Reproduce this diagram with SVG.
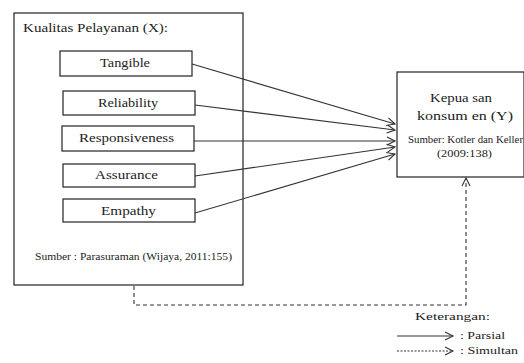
<svg xmlns="http://www.w3.org/2000/svg" width="524" height="363" viewBox="0 0 524 363">
<style>
.box{fill:#fff;stroke:#222;stroke-width:1.2}
text{font-family:'Liberation Serif','DejaVu Serif',serif;fill:#222}
.ln{fill:none;stroke:#333;stroke-width:1.1}
.ds{fill:none;stroke:#333;stroke-width:1.1;stroke-dasharray:4,3}
</style>
<defs>
<marker id="ar" markerUnits="userSpaceOnUse" markerWidth="12" markerHeight="10" refX="9" refY="5" orient="auto">
<path d="M1,1 L9,5 L1,9" fill="none" stroke="#333" stroke-width="1.1"/>
</marker>
</defs>
<rect width="524" height="363" fill="#fff"/>
<g id="kualitas">
<rect class="box" x="14" y="13" width="229" height="272"/>
<text x="23" y="32" font-size="12" textLength="145" lengthAdjust="spacingAndGlyphs">Kualitas Pelayanan (X):</text>
<text x="35" y="260" font-size="9.5" textLength="197" lengthAdjust="spacingAndGlyphs">Sumber : Parasuraman (Wijaya, 2011:155)</text>
</g>
<g id="tangible">
<rect class="box" x="60" y="51" width="132" height="25"/>
<text x="100" y="67" font-size="13.5" textLength="50" lengthAdjust="spacingAndGlyphs">Tangible</text>
</g>
<g id="reliability">
<rect class="box" x="63" y="91" width="132" height="24"/>
<text x="98" y="107" font-size="13.5" textLength="60" lengthAdjust="spacingAndGlyphs">Reliability</text>
</g>
<g id="responsiveness">
<rect class="box" x="62" y="126" width="132" height="25"/>
<text x="79" y="142" font-size="13.5" textLength="95" lengthAdjust="spacingAndGlyphs">Responsiveness</text>
</g>
<g id="assurance">
<rect class="box" x="63" y="164" width="132" height="23"/>
<text x="95" y="179" font-size="13.5" textLength="63" lengthAdjust="spacingAndGlyphs">Assurance</text>
</g>
<g id="empathy">
<rect class="box" x="63" y="199" width="132" height="23"/>
<text x="101" y="215" font-size="13.5" textLength="55" lengthAdjust="spacingAndGlyphs">Empathy</text>
</g>
<g id="kepuasan">
<rect class="box" x="397" y="72" width="127" height="105"/>
<text x="430" y="102" font-size="13.5" textLength="62" lengthAdjust="spacingAndGlyphs">Kepua san</text>
<text x="417" y="120" font-size="13.5" textLength="96" lengthAdjust="spacingAndGlyphs">konsum en (Y)</text>
<text x="408" y="143" font-size="9.5" textLength="115" lengthAdjust="spacingAndGlyphs">Sumber: Kotler dan Keller</text>
<text x="437" y="157" font-size="10" textLength="55" lengthAdjust="spacingAndGlyphs">(2009:138)</text>
</g>
<g id="connectors">
<line class="ln" x1="192" y1="64" x2="395" y2="124" marker-end="url(#ar)"/>
<line class="ln" x1="195" y1="105" x2="395" y2="130" marker-end="url(#ar)"/>
<line class="ln" x1="194" y1="141" x2="395" y2="141" marker-end="url(#ar)"/>
<line class="ln" x1="195" y1="176" x2="395" y2="147" marker-end="url(#ar)"/>
<line class="ln" x1="195" y1="213" x2="395" y2="154" marker-end="url(#ar)"/>
<polyline class="ds" points="134,286 134,305 466,305 466,178" marker-end="url(#ar)"/>
</g>
<g id="legend">
<text x="415" y="320" font-size="11" textLength="75" lengthAdjust="spacingAndGlyphs">Keterangan:</text>
<line class="ln" x1="397" y1="336" x2="453" y2="336" marker-end="url(#ar)"/>
<text x="460" y="339" font-size="11" textLength="45" lengthAdjust="spacingAndGlyphs">: Parsial</text>
<line class="ds" x1="397" y1="351" x2="453" y2="351" style="stroke-dasharray:2,1.5" marker-end="url(#ar)"/>
<text x="460" y="354" font-size="11" textLength="58" lengthAdjust="spacingAndGlyphs">: Simultan</text>
</g>
</svg>
